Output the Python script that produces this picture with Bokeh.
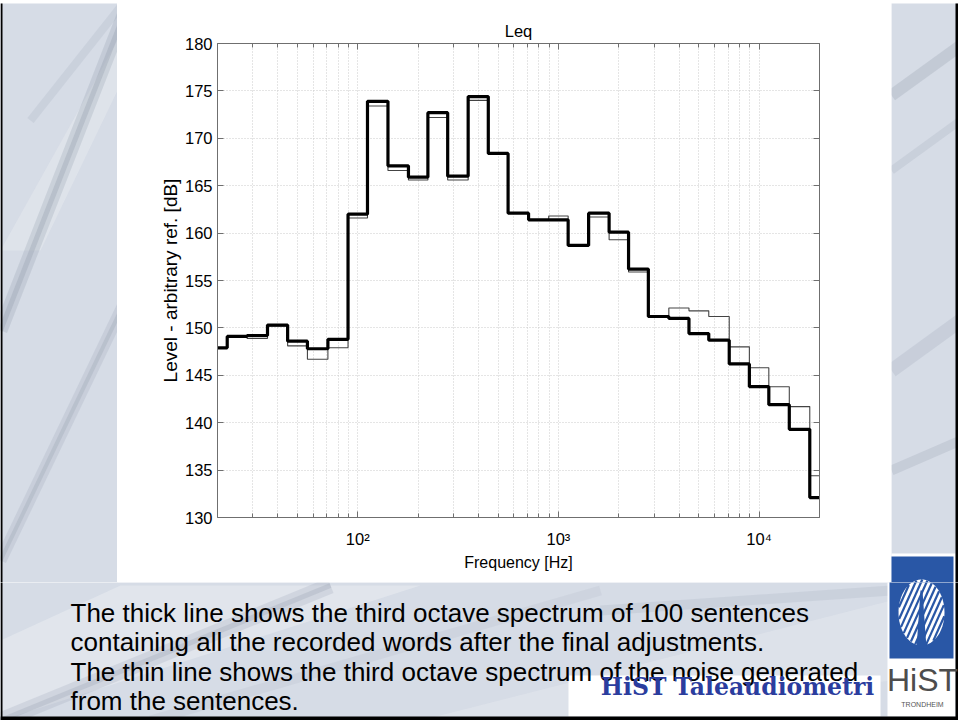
import numpy as np
from bokeh.plotting import figure
from bokeh.layouts import column, row
from bokeh.models import (FixedTicker, LogAxis, LinearAxis, CustomJSTickFormatter, Range1d)
from bokeh.core.properties import value
from bokeh.embed import file_html
from bokeh.resources import INLINE

# ---------------- data ----------------
bands_hz = [20, 25, 31.5, 40, 50, 63, 80, 100, 125, 160, 200, 250, 315, 400, 500, 630,
            800, 1000, 1250, 1600, 2000, 2500, 3150, 4000, 5000, 6300, 8000, 10000,
            12500, 16000, 20000]
speech_db = [147.9, 149.1, 149.2, 150.3, 148.6, 147.8, 148.8, 162.0, 173.9, 167.1, 165.9,
             172.7, 166.0, 174.4, 168.4, 162.1, 161.4, 161.4, 158.7, 162.1, 160.1, 156.2,
             151.2, 151.0, 149.4, 148.7, 146.2, 143.8, 141.9, 139.3, 132.1]
noise_db = [147.9, 149.1, 148.9, 150.2, 148.1, 146.7, 147.9, 161.6, 173.4, 166.6, 165.6,
            172.2, 165.6, 174.0, 168.3, 162.1, 161.4, 161.8, 158.8, 161.7, 159.3, 155.9,
            151.1, 152.1, 151.8, 151.2, 148.0, 145.8, 143.8, 141.7, 134.4]
x_major_ticks = [100, 1000, 10000]
x_minor_ticks = [20, 30, 40, 50, 60, 70, 80, 90, 200, 300, 400, 500, 600, 700, 800, 900,
                 2000, 3000, 4000, 5000, 6000, 7000, 8000, 9000, 20000]
y_ticks = [130, 135, 140, 145, 150, 155, 160, 165, 170, 175, 180]
title_text = "Leq"
x_label = "Frequency [Hz]"
y_label = "Level - arbitrary ref. [dB]"
caption_lines = [
    "The thick line shows the third octave spectrum of 100 sentences",
    "containing all the recorded words after the final adjustments.",
    "The thin line shows the third octave spectrum of the noise generated",
    "from the sentences.",
]
brand_text = "HiST Taleaudiometri"
logo_word = "HiST"
logo_city = "TRONDHEIM"

# ---------------- page geometry (pixels) ----------------
PW, PH = 958, 720
TOP = 3                 # black slide edge on top
PANEL_L, PANEL_R, PANEL_B = 117, 891, 582
FL, FT, FR, FB = 217, 43, 819, 517   # chart frame edges on the page

FONT = "Liberation Sans"
SLIDE_BG = "#d6dce6"
STREAK = "#98a1b0"
LIGHT = "#e8ebf0"
AX_COL = "#6f6f6f"
GRID_COL = "#cbcbcb"
LOGO_BLUE = "#2957a6"


def page_fig(x0, x1, y0, y1, bg=SLIDE_BG):
    f = figure(width=x1 - x0, height=y1 - y0, x_range=Range1d(x0, x1),
               y_range=Range1d(y1, y0), output_backend="svg", toolbar_location=None,
               x_axis_location=None, y_axis_location=None, min_border=0)
    f.grid.visible = False
    f.outline_line_color = None
    f.background_fill_color = bg
    f.border_fill_color = bg
    return f


def slide_decor(f):
    # soft diagonal streaks of the slide background picture
    f.patch([0, 120, 420, 0], [640, 585, 585, 720], fill_color=LIGHT, fill_alpha=0.6,
            line_color=None)
    f.patch([0, 40, 117, 117], [250, 250, 90, 40], fill_color=LIGHT, fill_alpha=0.45,
            line_color=None)
    f.patch([420, 891, 891, 560], [720, 600, 680, 720], fill_color=LIGHT, fill_alpha=0.4,
            line_color=None)
    streaks = [
        ([0, 125], [330, 10], 14, 0.28), ([0, 125], [330, 10], 5, 0.35),
        ([0, 125], [560, 300], 12, 0.22), ([0, 125], [560, 300], 4, 0.3),
        ([30, 125], [120, 0], 8, 0.18),
        ([0, 330], [720, 585], 16, 0.22), ([0, 330], [720, 585], 5, 0.28),
        ([150, 600], [720, 590], 10, 0.13),
        ([891, 960], [95, 45], 12, 0.3), ([891, 960], [170, 120], 8, 0.2),
        ([891, 960], [370, 320], 14, 0.22), ([891, 960], [470, 440], 10, 0.25),
        ([600, 891], [610, 590], 10, 0.18),
    ]
    for xs, ys, w, a in streaks:
        f.line(xs, ys, line_color=STREAK, line_width=w, line_alpha=a)
    # white boxes of the slide
    f.quad(left=[PANEL_L, 887, 568], right=[PANEL_R, 955, 880], top=[0, 553, 675],
           bottom=[PANEL_B, 716, 716], fill_color="white", line_color=None)
    # logo
    f.quad(left=889, right=953, top=556, bottom=658, fill_color=LOGO_BLUE, line_color=None)
    cxl, cyl, rx, ry = 921, 612, 23, 33
    t = np.linspace(0, 2 * np.pi, 60)
    f.patch(cxl + rx * np.cos(t), cyl + ry * np.sin(t), fill_color="white", line_color=None)
    xs_l, ys_l = [], []
    for k in np.arange(-36, 40, 5.5):
        s = np.linspace(-60, 60, 400)
        px = cxl + k + s * 0.45
        py = cyl - s
        inside = ((px - cxl) / rx) ** 2 + ((py - cyl) / ry) ** 2 <= 1
        if inside.sum() > 2:
            xs_l.append([px[inside][0], px[inside][-1]])
            ys_l.append([py[inside][0], py[inside][-1]])
    f.multi_line(xs_l, ys_l, line_color=LOGO_BLUE, line_width=2.2)
    f.patch([916, 926, 922, 920], [648, 648, 590, 590], fill_color=LOGO_BLUE, line_color=None)
    # black slide edge
    f.quad(left=[0, 0, 955, 0], right=[2, PW, PW, PW], top=[0, 716, 0, 0],
           bottom=[PH, PH, PH, 2], fill_color="black", line_color=None)


# ---------------- chart ----------------
cw = PANEL_R - PANEL_L
ch = PANEL_B - TOP
p = figure(width=cw, height=ch, x_axis_type="log", x_range=(20, 20000), y_range=(130, 180),
           output_backend="svg", toolbar_location=None,
           min_border_left=FL - PANEL_L, min_border_right=PANEL_R - FR,
           min_border_top=FT - TOP, min_border_bottom=PANEL_B - FB)
p.border_fill_color = "white"
p.background_fill_color = "white"
p.outline_line_color = None
p.title.text = title_text
p.title.align = "center"
p.title.text_font = FONT
p.title.text_font_size = "16.5px"
p.title.text_font_style = "normal"
p.title.text_color = "black"
p.title.standoff = 8

sup = CustomJSTickFormatter(code="""
const e = Math.round(Math.log10(tick));
const s = {2: '\\u00b2', 3: '\\u00b3', 4: '\\u2074'};
return '10' + (s[e] || e);
""")
blank = CustomJSTickFormatter(code="return '';")


def style_axis(ax):
    ax.axis_line_color = AX_COL
    ax.major_tick_line_color = AX_COL
    ax.minor_tick_line_color = AX_COL
    ax.major_tick_in = 6
    ax.major_tick_out = 0
    ax.minor_tick_in = 4
    ax.minor_tick_out = 0
    ax.major_label_text_font = FONT
    ax.major_label_text_color = "black"
    ax.axis_label_text_font = FONT
    ax.axis_label_text_font_style = "normal"
    ax.axis_label_text_color = "black"


xt = FixedTicker(ticks=x_major_ticks, minor_ticks=x_minor_ticks)
yt = FixedTicker(ticks=y_ticks, minor_ticks=[])

xb = p.xaxis[0]
xb.ticker = xt
xb.formatter = sup
xb.major_label_text_font_size = "16.5px"
xb.major_label_standoff = 12
xb.axis_label = x_label
xb.axis_label_text_font_size = "16px"
xb.axis_label_standoff = 3
style_axis(xb)

yl = p.yaxis[0]
yl.ticker = yt
yl.major_label_text_font_size = "16.5px"
yl.major_label_standoff = 5
yl.axis_label = y_label
yl.axis_label_text_font_size = "19px"
yl.axis_label_standoff = 1
style_axis(yl)

xa = LogAxis(ticker=xt, formatter=blank)
style_axis(xa)
p.add_layout(xa, "above")
yr = LinearAxis(ticker=yt, formatter=blank)
style_axis(yr)
p.add_layout(yr, "right")

for g in (p.xgrid[0], p.ygrid[0]):
    g.grid_line_color = GRID_COL
    g.grid_line_dash = "1 2"
p.xgrid.ticker = xt
p.ygrid.ticker = yt
p.xgrid.minor_grid_line_color = GRID_COL
p.xgrid.minor_grid_line_dash = "1 2"

# third-octave staircase: band edges are geometric means of neighbouring centres
f = np.array(bands_hz, dtype=float)
inner = np.sqrt(f[:-1] * f[1:])
edges = np.concatenate([[f[0] * f[0] / inner[0]], inner, [f[-1] * f[-1] / inner[-1]]])
p.step(edges, list(noise_db) + [noise_db[-1]], mode="after", line_color="#444444",
       line_width=1.1)
p.step(edges, list(speech_db) + [speech_db[-1]], mode="after", line_color="black",
       line_width=3.2)

# ---------------- slide pieces ----------------
top_strip = page_fig(0, PW, 0, TOP, bg="black")
left = page_fig(0, PANEL_L, TOP, PANEL_B)
right = page_fig(PANEL_R, PW, TOP, PANEL_B)
bottom = page_fig(0, PW, PANEL_B, PH)
for fg in (left, right, bottom):
    slide_decor(fg)

# text_baseline "middle": y is the middle of the text box
for i, line in enumerate(caption_lines):
    bottom.text([70], [612 + i * 29.5], text=[line], text_font=value(FONT),
                text_font_size="26px", text_baseline="middle", text_color="black")
bottom.text([737], [686], text=[brand_text], text_font=value("DejaVu Serif"),
            text_font_style="bold", text_font_size="23.5px", text_align="center",
            text_baseline="middle", text_color="#2b3d9e")
bottom.text([922], [679], text=[logo_word], text_font=value(FONT), text_font_size="32px",
            text_align="center", text_baseline="middle", text_color="#4d4d4d")
bottom.text([922], [704], text=[logo_city], text_font=value(FONT), text_font_size="7px",
            text_align="center", text_baseline="middle", text_color="#555555")

layout = column(top_strip, row(left, column(p), right, spacing=0), bottom, spacing=0)
open("out.html", "w").write(file_html(layout, INLINE))
